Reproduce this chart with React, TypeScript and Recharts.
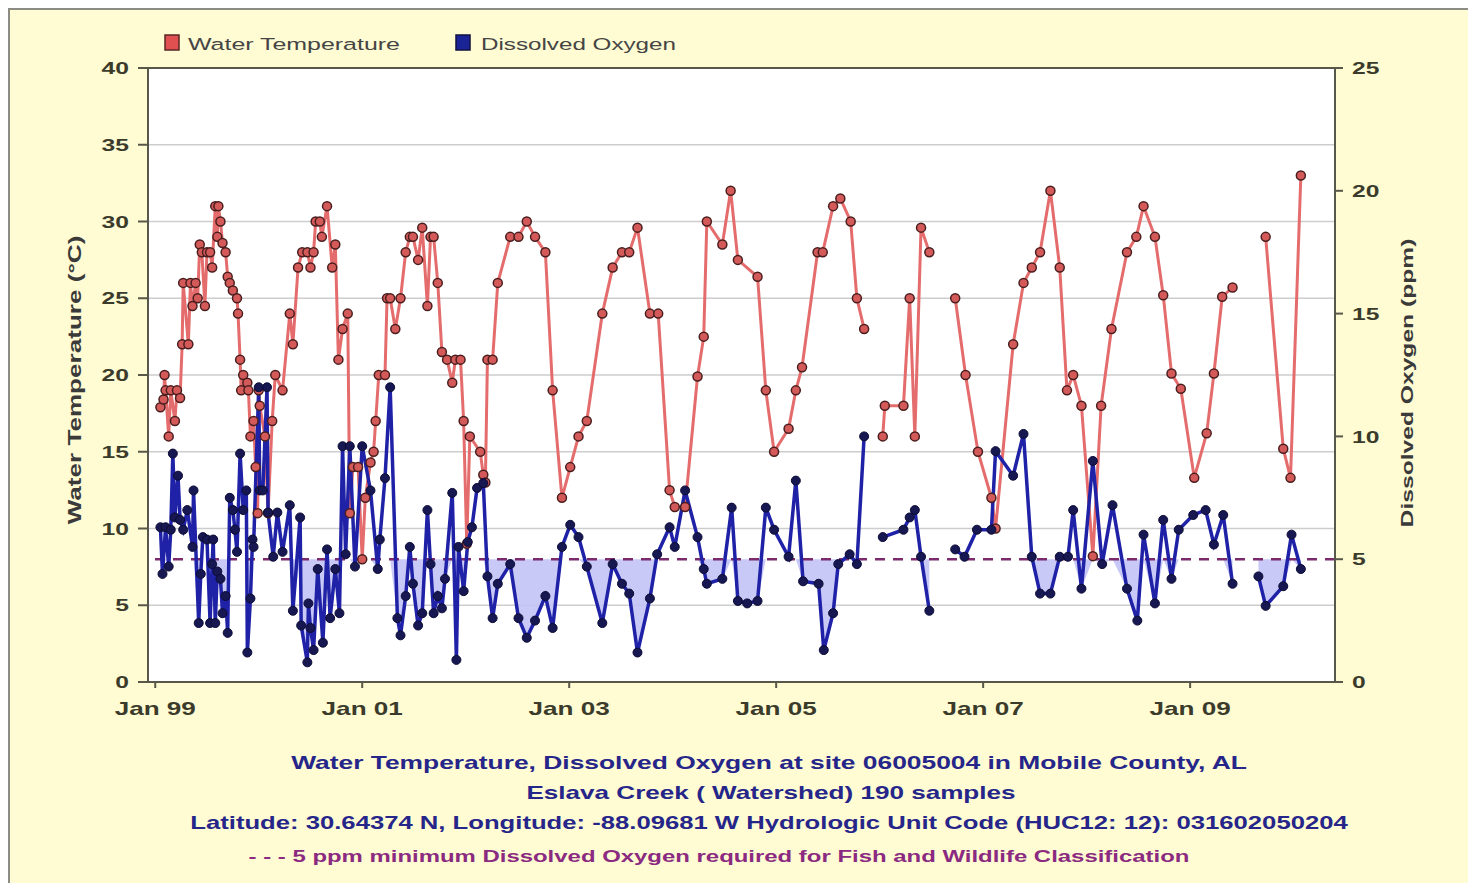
import React from "react";
import {
  ComposedChart,
  Line,
  Area,
  XAxis,
  YAxis,
  CartesianGrid,
  ReferenceLine,
} from "recharts";

// sample dates as decimal years
const tempDates = [
  1999.05, 1999.08, 1999.09, 1999.1, 1999.13, 1999.15, 1999.19, 1999.21, 1999.24, 1999.26,
  1999.27, 1999.32, 1999.34, 1999.36, 1999.39, 1999.41, 1999.43, 1999.45, 1999.48, 1999.5,
  1999.53, 1999.55, 1999.58, 1999.6, 1999.61, 1999.63, 1999.65, 1999.68, 1999.7, 1999.72,
  1999.75, 1999.79, 1999.8, 1999.82, 1999.83, 1999.85, 1999.89, 1999.9, 1999.92, 1999.95,
  1999.97, 1999.99, 2000.0, 2000.01, 2000.06, 2000.09, 2000.13, 2000.16, 2000.23, 2000.3,
  2000.33, 2000.38, 2000.42, 2000.47, 2000.5, 2000.53, 2000.55, 2000.59, 2000.61, 2000.66,
  2000.71, 2000.74, 2000.77, 2000.81, 2000.86, 2000.88, 2000.91, 2000.96, 2001.0, 2001.03,
  2001.08, 2001.11, 2001.13, 2001.16, 2001.22, 2001.24, 2001.27, 2001.32, 2001.37, 2001.42,
  2001.46, 2001.49, 2001.54, 2001.58, 2001.63, 2001.66, 2001.69, 2001.73, 2001.77, 2001.82,
  2001.87, 2001.9, 2001.95, 2001.98, 2002.01, 2002.04, 2002.14, 2002.17, 2002.19, 2002.21,
  2002.26, 2002.31, 2002.43, 2002.51, 2002.59, 2002.67, 2002.77, 2002.84, 2002.93, 2003.01,
  2003.09, 2003.17, 2003.32, 2003.42, 2003.51, 2003.58, 2003.66, 2003.78, 2003.86, 2003.97,
  2004.02, 2004.12, 2004.24, 2004.3, 2004.33, 2004.48, 2004.56, 2004.63, 2004.82, 2004.9,
  2004.98, 2005.12, 2005.19, 2005.25, 2005.4, 2005.45, 2005.55, 2005.62, 2005.72, 2005.78,
  2005.85, 2005.95, 2006.03, 2006.05, 2006.23, 2006.29, 2006.34, 2006.4, 2006.48, 2006.6,
  2006.73, 2006.83, 2006.95, 2007.08, 2007.12, 2007.29, 2007.39, 2007.47, 2007.55, 2007.65,
  2007.74, 2007.81, 2007.87, 2007.95, 2008.06, 2008.14, 2008.24, 2008.39, 2008.48, 2008.55,
  2008.66, 2008.74, 2008.82, 2008.91, 2009.04, 2009.16, 2009.23, 2009.31, 2009.41, 2009.6,
  2009.73, 2009.9, 2009.97, 2010.07,
];

// water temperature, deg C (null = no sample, breaks the line)
const tempValues = [
  17.9, 18.4, 20, 19, 16, 19, 17, 19, 18.5, 22,
  26, 22, 26, 24.5, 26, 25, 28.5, 28, 24.5, 28,
  28, 27, 31, 29, 31, 30, 28.6, 28, 26.4, 26,
  25.5, 25, 24, 21, 19, 20, 19.5, 19, 16, 17,
  14, 11, 19, 18, 16, 11, 17, 20, 19, 24,
  22, 27, 28, 28, 27, 28, 30, 30, 29, 31,
  27, 28.5, 21, 23, 24, 11, 14, 14, 8, 12,
  14.3, 15, 17, 20, 20, 25, 25, 23, 25, 28,
  29, 29, 27.5, 29.6, 24.5, 29, 29, 26, 21.5, 21,
  19.5, 21, 21, 17, 9, 16, 15, 13.5, 13, 21,
  21, 26, 29, 29, 30, 29, 28, 19, 12, 14,
  16, 17, 24, 27, 28, 28, 29.6, 24, 24, 12.5,
  11.4, 11.4, 19.9, 22.5, 30, 28.5, 32, 27.5, 26.4, 19,
  15, 16.5, 19, 20.5, 28, 28, 31, 31.5, 30, 25,
  23, null, 16, 18, 18, 25, 16, 29.6, 28, null,
  25, 20, 15, 12, 10, 22, 26, 27, 28, 32,
  27, 19, 20, 18, 8.2, 18, 23, 28, 29, 31,
  29, 25.2, 20.1, 19.1, 13.3, 16.2, 20.1, 25.1, 25.7, null,
  29, 15.2, 13.3, 33,
];

const oxygenDates = [
  1999.05, 1999.07, 1999.1, 1999.13, 1999.15, 1999.17, 1999.19, 1999.22, 1999.24, 1999.27,
  1999.31, 1999.36, 1999.37, 1999.42, 1999.44, 1999.46, 1999.5, 1999.53, 1999.55, 1999.56,
  1999.58, 1999.6, 1999.63, 1999.65, 1999.68, 1999.7, 1999.72, 1999.75, 1999.77, 1999.79,
  1999.82, 1999.85, 1999.88, 1999.89, 1999.92, 1999.94, 1999.95, 2000.0, 2000.01, 2000.04,
  2000.08, 2000.09, 2000.14, 2000.18, 2000.23, 2000.3, 2000.33, 2000.4, 2000.41, 2000.47,
  2000.48, 2000.5, 2000.53, 2000.57, 2000.62, 2000.66, 2000.69, 2000.74, 2000.78, 2000.81,
  2000.84, 2000.88, 2000.93, 2001.0, 2001.08, 2001.15, 2001.17, 2001.22, 2001.27, 2001.34,
  2001.37, 2001.42, 2001.46, 2001.49, 2001.54, 2001.58, 2001.63, 2001.66, 2001.69, 2001.73,
  2001.77, 2001.8, 2001.87, 2001.91, 2001.93, 2001.98, 2002.02, 2002.06, 2002.11, 2002.17,
  2002.21, 2002.26, 2002.31, 2002.43, 2002.51, 2002.59, 2002.67, 2002.77, 2002.84, 2002.93,
  2003.01, 2003.09, 2003.17, 2003.32, 2003.42, 2003.51, 2003.58, 2003.66, 2003.78, 2003.85,
  2003.97, 2004.02, 2004.12, 2004.24, 2004.3, 2004.33, 2004.48, 2004.57, 2004.63, 2004.72,
  2004.82, 2004.9, 2004.98, 2005.12, 2005.19, 2005.26, 2005.41, 2005.46, 2005.55, 2005.6,
  2005.71, 2005.78, 2005.85, 2005.95, 2006.03, 2006.23, 2006.29, 2006.34, 2006.4, 2006.48,
  2006.6, 2006.73, 2006.82, 2006.94, 2007.08, 2007.12, 2007.29, 2007.39, 2007.47, 2007.55,
  2007.65, 2007.74, 2007.82, 2007.87, 2007.95, 2008.06, 2008.15, 2008.25, 2008.39, 2008.49,
  2008.55, 2008.66, 2008.74, 2008.82, 2008.89, 2009.03, 2009.15, 2009.23, 2009.32, 2009.41,
  2009.6, 2009.66, 2009.73, 2009.9, 2009.98, 2010.07,
];

// dissolved oxygen, ppm
const oxygenValues = [
  6.3, 4.4, 6.3, 4.7, 6.2, 9.3, 6.7, 8.4, 6.6, 6.2,
  7, 5.5, 7.8, 2.4, 4.4, 5.9, 5.8, 2.4, 4.8, 5.8,
  2.4, 4.5, 4.2, 2.8, 3.5, 2, 7.5, 7, 6.2, 5.3,
  9.3, 7, 7.8, 1.2, 3.4, 5.8, 5.5, 12, 7.8, 7.8,
  12, 6.9, 5.1, 6.9, 5.3, 7.2, 2.9, 6.7, 2.3, 0.8,
  3.2, 2.2, 1.3, 4.6, 1.6, 5.4, 2.6, 4.6, 2.8, 9.6,
  5.2, 9.6, 4.7, 9.6, 7.8, 4.6, 5.8, 8.3, 12, 2.6,
  1.9, 3.5, 5.5, 4, 2.3, 2.8, 7, 4.8, 2.8, 3.5,
  3, 4.2, 7.7, 0.9, 5.5, 3.7, 5.7, 6.3, 7.9, 8.1,
  4.3, 2.6, 4, 4.8, 2.6, 1.8, 2.5, 3.5, 2.2, 5.5,
  6.4, 5.9, 4.7, 2.4, 4.8, 4, 3.6, 1.2, 3.4, 5.2,
  6.3, 5.5, 7.8, 5.9, 4.6, 4, 4.2, 7.1, 3.3, 3.2,
  3.3, 7.1, 6.2, 5.1, 8.2, 4.1, 4, 1.3, 2.8, 4.8,
  5.2, 4.8, 10, null, 5.9, 6.2, 6.7, 7, 5.1, 2.9,
  null, 5.4, 5.1, 6.2, 6.2, 9.4, 8.4, 10.1, 5.1, 3.6,
  3.6, 5.1, 5.1, 7, 3.8, 9, 4.8, 7.2, 3.8, 2.5,
  6, 3.2, 6.6, 4.2, 6.2, 6.8, 7, 5.6, 6.8, 4,
  null, 4.3, 3.1, 3.9, 6, 4.6,
];

const yearTicks = [1999, 2001, 2003, 2005, 2007, 2009];
const tempTicks = [0, 5, 10, 15, 20, 25, 30, 35, 40];
const oxygenTicks = [0, 5, 10, 15, 20, 25];
const DO_MIN = 5;

const FONT = "'Liberation Sans', Arial, sans-serif";
const STRETCH = 1.45; // the original lettering is wide
const AXIS = "#57574a";
const TICK_TEXT = "#3b3b2c";

const tempData = tempDates.map((x, i) => ({ x, temp: tempValues[i] }));
const oxygenData = oxygenDates.map((x, i) => {
  const v = oxygenValues[i];
  return { x, oxygen: v, band: v == null ? null : [Math.min(v, DO_MIN), DO_MIN] };
});

const yearLabel = (v: number) => `Jan ${String(v % 100).padStart(2, "0")}`;

function StretchTick(props: any) {
  const { x, y, payload, textAnchor, dy, fontSize, format } = props;
  const label = format ? format(payload.value) : payload.value;
  return (
    <text
      transform={`translate(${x},${y}) scale(${STRETCH},1)`}
      textAnchor={textAnchor}
      dy={dy}
      fontSize={fontSize}
      fontWeight="bold"
      fontFamily={FONT}
      fill={TICK_TEXT}
    >
      {label}
    </text>
  );
}

function WideText({ x, y, rotate = 0, anchor = "middle", children, ...rest }: any) {
  return (
    <text
      transform={`translate(${x},${y}) rotate(${rotate}) scale(${STRETCH},1)`}
      textAnchor={anchor}
      {...rest}
    >
      {children}
    </text>
  );
}

export default function App() {
  return (
    <div
      style={{
        position: "relative",
        width: 1468,
        height: 875,
        background: "#fffbd2",
        fontFamily: FONT,
      }}
    >
      <div
        style={{
          position: "absolute",
          left: 0,
          top: 0,
          right: 0,
          bottom: 0,
          borderLeft: "2px solid #8c8c84",
          borderTop: "2px solid #8c8c84",
          pointerEvents: "none",
        }}
      />
      <div style={{ position: "absolute", left: 0, top: 0 }}>
        <ComposedChart
          width={1468}
          height={875}
          margin={{ top: 60, right: 0, bottom: 171, left: 0 }}
        >
          <CartesianGrid
            yAxisId="left"
            vertical={false}
            stroke="#cdcdcd"
            strokeWidth={1.5}
            fill="#ffffff"
          />
          <XAxis
            dataKey="x"
            type="number"
            domain={[1998.93, 2010.4]}
            allowDataOverflow
            ticks={yearTicks}
            height={30}
            stroke={AXIS}
            strokeWidth={2}
            tickSize={6}
            tickMargin={14}
            tick={(p: any) => <StretchTick {...p} dy="0.71em" fontSize={18} format={yearLabel} />}
          />
          <YAxis
            yAxisId="left"
            domain={[0, 40]}
            ticks={tempTicks}
            width={140}
            stroke={AXIS}
            strokeWidth={2}
            tickSize={10}
            tickMargin={9}
            tick={(p: any) => <StretchTick {...p} dy="0.36em" fontSize={17} />}
          />
          <YAxis
            yAxisId="right"
            orientation="right"
            domain={[0, 25]}
            ticks={oxygenTicks}
            width={141}
            stroke={AXIS}
            strokeWidth={2}
            tickSize={8}
            tickMargin={9}
            tick={(p: any) => <StretchTick {...p} dy="0.36em" fontSize={17} />}
          />
          <ReferenceLine yAxisId="left" y={40} stroke={AXIS} strokeWidth={2} />
          <Area
            data={oxygenData}
            yAxisId="right"
            dataKey="band"
            type="linear"
            stroke="none"
            fill="#c3c3f6"
            fillOpacity={0.9}
            isAnimationActive={false}
            activeDot={false}
          />
          <ReferenceLine
            yAxisId="right"
            y={DO_MIN}
            stroke="#7b2a6c"
            strokeWidth={2.5}
            strokeDasharray="10 8"
          />
          <Line
            data={tempData}
            yAxisId="left"
            dataKey="temp"
            type="linear"
            stroke="#e46c6c"
            strokeWidth={3}
            dot={{ r: 4.5, fill: "#d45a5a", stroke: "#4a1e1e", strokeWidth: 1.5 }}
            activeDot={false}
            isAnimationActive={false}
          />
          <Line
            data={oxygenData}
            yAxisId="right"
            dataKey="oxygen"
            type="linear"
            stroke="#1f22a6"
            strokeWidth={3.5}
            dot={{ r: 4.5, fill: "#171752", stroke: "#0c0c36", strokeWidth: 1 }}
            activeDot={false}
            isAnimationActive={false}
          />
        </ComposedChart>
      </div>
      <svg
        width={1468}
        height={875}
        style={{ position: "absolute", left: 0, top: 0, pointerEvents: "none" }}
        fontFamily={FONT}
      >
        <rect x={157} y={27} width={14} height={15} fill="#e05050" stroke="#5a2626" strokeWidth={1.5} />
        <WideText x={180} y={41.5} anchor="start" fontSize={17.2} fill="#454545">
          Water Temperature
        </WideText>
        <rect x={448} y={27} width={14} height={15} fill="#1a2496" stroke="#101040" strokeWidth={1.5} />
        <WideText x={473} y={41.5} anchor="start" fontSize={16.7} fill="#454545">
          Dissolved Oxygen
        </WideText>

        <WideText x={67} y={372} rotate={-90} dy="0.35em" fontSize={18} fontWeight="bold" fill="#3a3a3a">
          Water Temperature (°C)
        </WideText>
        <WideText x={1399} y={375} rotate={-90} dy="0.35em" fontSize={17} fontWeight="bold" fill="#3a3a3a">
          Dissolved Oxygen (ppm)
        </WideText>

        <g fontWeight="bold" fill="#26268a">
          <WideText x={761} y={761} fontSize={18.2}>
            Water Temperature, Dissolved Oxygen at site 06005004 in Mobile County, AL
          </WideText>
          <WideText x={763} y={791} fontSize={18}>
            Eslava Creek ( Watershed) 190 samples
          </WideText>
          <WideText x={761} y={821} fontSize={17.7}>
            Latitude: 30.64374 N, Longitude: -88.09681 W Hydrologic Unit Code (HUC12: 12): 031602050204
          </WideText>
          <WideText x={711} y={854} fill="#8a2a80" fontSize={16.5}>
            - - - 5 ppm minimum Dissolved Oxygen required for Fish and Wildlife Classification
          </WideText>
        </g>
      </svg>
    </div>
  );
}
